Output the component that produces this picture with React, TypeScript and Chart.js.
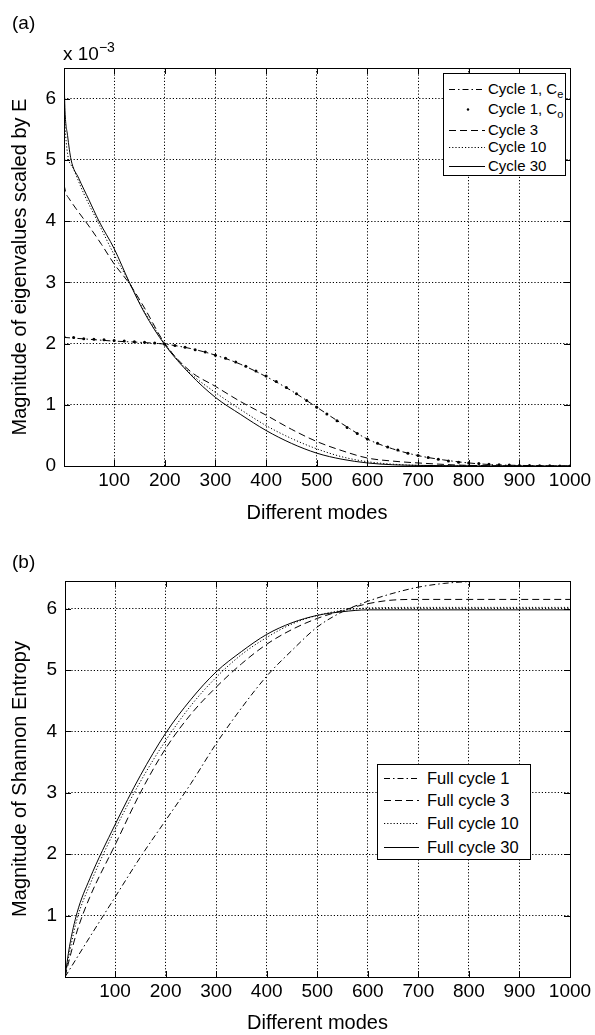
import React, { useEffect, useRef } from "react";
import { Chart, registerables } from "chart.js";

Chart.register(...registerables);

const FONT = '"Liberation Sans", Arial, Helvetica, sans-serif';

// ---------- ticks ----------
const X_TICKS = [100, 200, 300, 400, 500, 600, 700, 800, 900, 1000];
const A_Y_TICKS = [0, 1, 2, 3, 4, 5, 6];
const B_Y_TICKS = [1, 2, 3, 4, 5, 6];

// ---------- panel (a): eigenvalues (x 10^-3) ----------
const A_CE_X = [1, 50, 100, 150, 200, 250, 300, 350, 400, 450, 500, 550, 600, 650, 700, 750, 800, 850, 900, 950, 1000];
const A_CE_Y = [2.1, 2.07, 2.04, 2.02, 1.99, 1.92, 1.81, 1.66, 1.46, 1.23, 0.96, 0.69, 0.44, 0.28, 0.17, 0.1, 0.05, 0.02, 0.01, 0.003, 0];

const A_CO_X = [1, 20, 40, 60, 80, 100, 120, 140, 160, 180, 200, 220, 240, 260, 280, 300, 320, 340, 360, 380, 400, 420, 440, 460, 480, 500, 520, 540, 560, 580, 600, 620, 640, 660, 680, 700, 720, 740, 760, 780, 800, 820, 840, 860, 880, 900, 920, 940, 960, 980, 1000];
const A_CO_Y = [2.11, 2.1, 2.08, 2.07, 2.06, 2.05, 2.04, 2.03, 2.02, 2.01, 1.99, 1.97, 1.94, 1.9, 1.86, 1.81, 1.76, 1.7, 1.63, 1.55, 1.47, 1.38, 1.28, 1.18, 1.07, 0.96, 0.85, 0.74, 0.63, 0.53, 0.44, 0.37, 0.31, 0.26, 0.21, 0.17, 0.14, 0.11, 0.08, 0.06, 0.05, 0.04, 0.03, 0.02, 0.015, 0.01, 0.007, 0.005, 0.003, 0.002, 0.001];

const A_C3_X = [1, 5, 10, 25, 50, 75, 100, 130, 160, 200, 250, 300, 350, 400, 450, 500, 550, 600, 650, 700, 800, 900, 1000];
const A_C3_Y = [4.6, 4.45, 4.38, 4.2, 3.92, 3.62, 3.3, 2.98, 2.58, 2.0, 1.55, 1.3, 1.05, 0.83, 0.6, 0.4, 0.25, 0.13, 0.08, 0.05, 0.01, 0.003, 0];

const A_C10_X = [1, 3, 8, 20, 40, 70, 100, 130, 160, 200, 250, 300, 350, 400, 450, 500, 550, 600, 650, 700, 800, 1000];
const A_C10_Y = [5.9, 5.55, 5.1, 4.85, 4.45, 3.95, 3.45, 3.0, 2.52, 2.0, 1.52, 1.2, 0.92, 0.66, 0.45, 0.28, 0.15, 0.07, 0.03, 0.01, 0.002, 0];

const A_C30_X = [1, 3, 8, 15, 30, 50, 70, 100, 130, 160, 200, 250, 300, 350, 400, 450, 500, 550, 600, 650, 700, 800, 1000];
const A_C30_Y = [6.38, 5.8, 5.4, 5.0, 4.7, 4.35, 4.0, 3.55, 3.0, 2.5, 1.98, 1.5, 1.12, 0.84, 0.58, 0.37, 0.21, 0.11, 0.05, 0.02, 0.01, 0.002, 0];

// ---------- panel (b): Shannon entropy ----------
const B_C1_X = [1, 50, 100, 150, 200, 250, 300, 350, 400, 450, 500, 550, 600, 650, 700, 750, 800, 850, 900, 1000];
const B_C1_Y = [0, 0.65, 1.3, 1.95, 2.55, 3.15, 3.8, 4.38, 4.9, 5.32, 5.7, 5.95, 6.12, 6.25, 6.35, 6.41, 6.44, 6.45, 6.45, 6.45];

const B_C3_X = [1, 10, 25, 50, 100, 150, 200, 250, 300, 350, 400, 450, 500, 550, 600, 650, 700, 800, 1000];
const B_C3_Y = [0, 0.3, 0.75, 1.3, 2.15, 3.0, 3.72, 4.28, 4.72, 5.1, 5.42, 5.66, 5.84, 5.97, 6.08, 6.14, 6.15, 6.15, 6.15];

const B_C10_X = [1, 10, 25, 50, 100, 150, 200, 250, 300, 350, 400, 450, 500, 550, 600, 700, 1000];
const B_C10_Y = [0, 0.4, 0.95, 1.5, 2.4, 3.18, 3.85, 4.42, 4.88, 5.25, 5.53, 5.75, 5.89, 5.97, 6.01, 6.02, 6.02];

const B_C30_X = [1, 10, 25, 50, 100, 150, 200, 250, 300, 350, 400, 450, 500, 550, 600, 700, 1000];
const B_C30_Y = [0, 0.5, 1.05, 1.6, 2.48, 3.28, 3.97, 4.52, 4.97, 5.3, 5.58, 5.77, 5.89, 5.95, 5.98, 5.98, 5.98];

// ---------- styles ----------
const DASH_DOT = [6, 3, 1.5, 3];
const DASHED = [7, 4];
const DOTTED = [1.2, 2];

function series(label: string, xs: number[], ys: number[], dash: number[], extra: any = {}) {
  return {
    label,
    data: xs.map((x, i) => ({ x, y: ys[i] })),
    borderColor: "#000",
    backgroundColor: "#000",
    borderWidth: 1,
    borderDash: dash,
    pointRadius: 0,
    fill: false,
    cubicInterpolationMode: "monotone",
    ...extra,
  };
}

const boxPlugin = {
  id: "matlabBox",
  afterDatasetsDraw(chart: any) {
    const { ctx, chartArea } = chart;
    const xs = chart.scales.x;
    const ys = chart.scales.y;
    const { left, right, top, bottom } = chartArea;
    const tl = 6;
    ctx.save();
    ctx.setLineDash([]);
    ctx.strokeStyle = "#000";
    ctx.lineWidth = 1;
    ctx.beginPath();
    xs.ticks.forEach((t: any) => {
      const p = Math.round(xs.getPixelForValue(t.value)) + 0.5;
      ctx.moveTo(p, bottom);
      ctx.lineTo(p, bottom - tl);
      ctx.moveTo(p, top);
      ctx.lineTo(p, top + tl);
    });
    ys.ticks.forEach((t: any) => {
      const p = Math.round(ys.getPixelForValue(t.value)) + 0.5;
      ctx.moveTo(left, p);
      ctx.lineTo(left + tl, p);
      ctx.moveTo(right, p);
      ctx.lineTo(right - tl, p);
    });
    ctx.stroke();
    ctx.strokeRect(Math.round(left) + 0.5, Math.round(top) + 0.5, Math.round(right - left), Math.round(bottom - top));
    ctx.restore();
  },
};

function makeOptions(cfg: {
  padTop: number;
  yWidth: number;
  xHeight: number;
  yMax: number;
  yTicks: number[];
  yTitle: string;
}) {
  return {
    animation: false,
    responsive: false,
    devicePixelRatio: 1,
    layout: { padding: { top: cfg.padTop, right: 25, bottom: 0, left: 0 } },
    plugins: { legend: { display: false }, tooltip: { enabled: false } },
    scales: {
      x: {
        type: "linear",
        min: 1,
        max: 1000,
        afterBuildTicks: (s: any) => {
          s.ticks = X_TICKS.map((v) => ({ value: v }));
        },
        afterFit: (s: any) => {
          s.height = cfg.xHeight;
        },
        grid: { color: "#000", lineWidth: 1, drawTicks: false },
        border: { display: false, dash: DOTTED },
        ticks: {
          color: "#000",
          font: { family: FONT, size: 19 },
          padding: 3,
          maxRotation: 0,
          autoSkip: false,
          callback: (v: any) => String(v),
        },
        title: {
          display: true,
          text: "Different modes",
          color: "#000",
          font: { family: FONT, size: 20 },
          padding: { top: 0, bottom: 0 },
        },
      },
      y: {
        type: "linear",
        min: 0,
        max: cfg.yMax,
        afterBuildTicks: (s: any) => {
          s.ticks = cfg.yTicks.map((v) => ({ value: v }));
        },
        afterFit: (s: any) => {
          s.width = cfg.yWidth;
        },
        grid: { color: "#000", lineWidth: 1, drawTicks: false },
        border: { display: false, dash: DOTTED },
        ticks: {
          color: "#000",
          font: { family: FONT, size: 19 },
          padding: 8,
          callback: (v: any) => String(v),
        },
        title: {
          display: true,
          text: cfg.yTitle,
          color: "#000",
          font: { family: FONT, size: 20 },
          padding: { top: 8, bottom: 0 },
        },
      },
    },
  };
}

function PanelChart({ datasets, options, width, height }: any) {
  const ref = useRef<HTMLCanvasElement | null>(null);
  useEffect(() => {
    if (!ref.current) return;
    const chart = new Chart(ref.current, {
      type: "line",
      data: { datasets },
      options,
      plugins: [boxPlugin],
    } as any);
    return () => chart.destroy();
  }, []);
  return <canvas ref={ref} width={width} height={height} style={{ display: "block", width, height }} />;
}

function LegendLine({ x1, x2, y, dash }: { x1: number; x2: number; y: number; dash?: string }) {
  return <line x1={x1} x2={x2} y1={y} y2={y} stroke="#000" strokeWidth={1} strokeDasharray={dash} />;
}

const txt: React.CSSProperties = { position: "absolute", whiteSpace: "nowrap", color: "#000", fontFamily: FONT };

export default function App() {
  const aDatasets = [
    series("Cycle 1, Ce", A_CE_X, A_CE_Y, DASH_DOT),
    series("Cycle 1, Co", A_CO_X, A_CO_Y, [], { showLine: false, pointRadius: 1.5, pointBorderWidth: 0, pointBackgroundColor: "#000" }),
    series("Cycle 3", A_C3_X, A_C3_Y, DASHED),
    series("Cycle 10", A_C10_X, A_C10_Y, DOTTED),
    series("Cycle 30", A_C30_X, A_C30_Y, []),
  ];
  const bDatasets = [
    series("Full cycle 1", B_C1_X, B_C1_Y, DASH_DOT),
    series("Full cycle 3", B_C3_X, B_C3_Y, DASHED),
    series("Full cycle 10", B_C10_X, B_C10_Y, DOTTED),
    series("Full cycle 30", B_C30_X, B_C30_Y, []),
  ];
  const aOptions = makeOptions({
    padTop: 68,
    yWidth: 64,
    xHeight: 525 - 466,
    yMax: 6.5,
    yTicks: A_Y_TICKS,
    yTitle: "Magnitude of eigenvalues scaled by E",
  });
  const bOptions = makeOptions({
    padTop: 56,
    yWidth: 65,
    xHeight: 510 - 452,
    yMax: 6.45,
    yTicks: B_Y_TICKS,
    yTitle: "Magnitude of Shannon Entropy",
  });

  return (
    <div style={{ position: "absolute", left: 0, top: 0, width: 595, height: 1035, background: "#fff", overflow: "hidden" }}>
      <div style={{ position: "absolute", left: 0, top: 0 }}>
        <PanelChart datasets={aDatasets} options={aOptions} width={595} height={525} />
      </div>
      <div style={{ position: "absolute", left: 0, top: 525 }}>
        <PanelChart datasets={bDatasets} options={bOptions} width={595} height={510} />
      </div>

      {/* panel labels */}
      <div style={{ ...txt, left: 12, top: 13, fontSize: 19, lineHeight: "19px" }}>(a)</div>
      <div style={{ ...txt, left: 12, top: 552, fontSize: 19, lineHeight: "19px" }}>(b)</div>
      <div style={{ ...txt, left: 63, top: 44, fontSize: 19, lineHeight: "19px" }}>
        x 10<span style={{ fontSize: 14, position: "relative", top: -8 }}>−3</span>
      </div>

      {/* legend (a) */}
      <div
        style={{
          position: "absolute",
          left: 443,
          top: 73,
          width: 123,
          height: 103,
          border: "1px solid #000",
          background: "#fff",
          boxSizing: "border-box",
        }}
      >
        <svg width={121} height={101} style={{ position: "absolute", left: 0, top: 0 }}>
          <LegendLine x1={5} x2={41} y={15.5} dash="6 3 1.5 3" />
          <circle cx={24} cy={35.5} r={1.2} fill="#000" />
          <LegendLine x1={5} x2={41} y={56.5} dash="7 4" />
          <LegendLine x1={5} x2={41} y={73.5} dash="1.2 2" />
          <LegendLine x1={5} x2={41} y={92.5} />
        </svg>
        <div style={{ ...txt, left: 44, top: 6, fontSize: 15, lineHeight: "18px" }}>
          Cycle 1, C<span style={{ fontSize: 11, position: "relative", top: 4 }}>e</span>
        </div>
        <div style={{ ...txt, left: 44, top: 26, fontSize: 15, lineHeight: "18px" }}>
          Cycle 1, C<span style={{ fontSize: 11, position: "relative", top: 4 }}>o</span>
        </div>
        <div style={{ ...txt, left: 44, top: 47, fontSize: 15, lineHeight: "18px" }}>Cycle 3</div>
        <div style={{ ...txt, left: 44, top: 64, fontSize: 15, lineHeight: "18px" }}>Cycle 10</div>
        <div style={{ ...txt, left: 44, top: 83, fontSize: 15, lineHeight: "18px" }}>Cycle 30</div>
      </div>

      {/* legend (b) */}
      <div
        style={{
          position: "absolute",
          left: 377,
          top: 764,
          width: 154,
          height: 96,
          border: "1px solid #000",
          background: "#fff",
          boxSizing: "border-box",
        }}
      >
        <svg width={152} height={94} style={{ position: "absolute", left: 0, top: 0 }}>
          <LegendLine x1={6} x2={41} y={13.5} dash="6 3 1.5 3" />
          <LegendLine x1={6} x2={41} y={35.5} dash="7 4" />
          <LegendLine x1={6} x2={41} y={58.5} dash="1.2 2" />
          <LegendLine x1={6} x2={41} y={82.5} />
        </svg>
        <div style={{ ...txt, left: 49, top: 3, fontSize: 16.5, lineHeight: "20px" }}>Full cycle 1</div>
        <div style={{ ...txt, left: 49, top: 25, fontSize: 16.5, lineHeight: "20px" }}>Full cycle 3</div>
        <div style={{ ...txt, left: 49, top: 48, fontSize: 16.5, lineHeight: "20px" }}>Full cycle 10</div>
        <div style={{ ...txt, left: 49, top: 72, fontSize: 16.5, lineHeight: "20px" }}>Full cycle 30</div>
      </div>
    </div>
  );
}
